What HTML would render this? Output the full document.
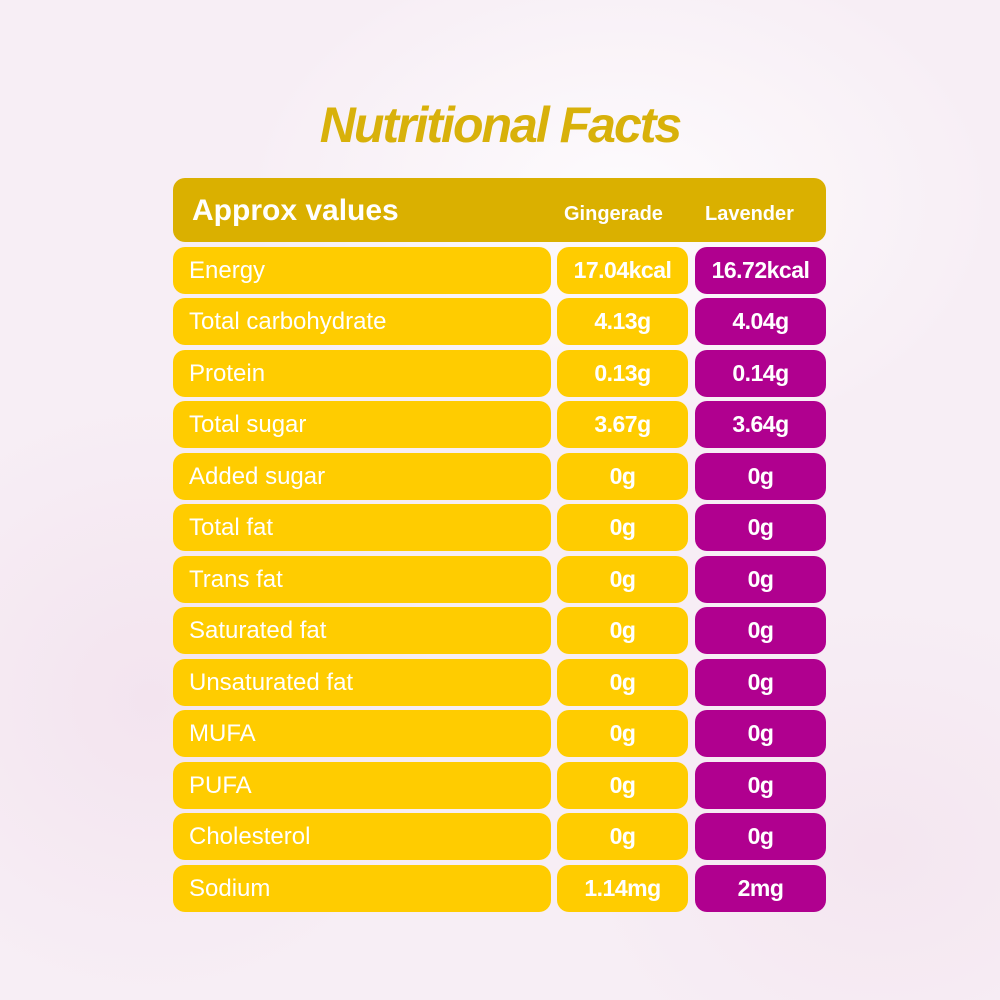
<!DOCTYPE html>
<html><head><meta charset="utf-8"><style>
body{margin:0;width:1000px;height:1000px;overflow:hidden;background:#f7eef5;font-family:"Liberation Sans",Arial,sans-serif;position:relative}
.bg{position:absolute;inset:0;background:radial-gradient(ellipse 380px 260px at 620px 200px,#fdfbfd 0%,rgba(253,251,253,0) 100%),radial-gradient(ellipse 300px 300px at 150px 700px,#f3e4ef 0%,rgba(243,228,239,0) 100%),radial-gradient(ellipse 300px 250px at 880px 850px,#f4e6f0 0%,rgba(244,230,240,0) 100%)}
.t{position:absolute;left:0;width:1000px;top:96px;text-align:center;font-size:50px;font-weight:bold;font-style:italic;color:#d8b10a;letter-spacing:-2px;font-family:"Liberation Sans",sans-serif}
.b{position:absolute;border-radius:12px;color:#fff;display:flex;align-items:center;font-size:24px}
.h{left:173px;top:178px;width:653px;height:64px;background:#dab000}
.l{left:173px;width:378px;height:47px;background:#ffcc00;padding-left:16px;box-sizing:border-box}
.g{left:557px;width:131px;height:47px;background:#ffcc00;justify-content:center;font-weight:bold;font-size:23px;letter-spacing:-0.5px}
.p{left:695px;width:131px;height:47px;background:#b0008f;justify-content:center;font-weight:bold;font-size:23px;letter-spacing:-0.5px}
</style></head><body><div class="bg"></div>
<div class="t">Nutritional Facts</div>
<div class="b h"><span style="position:absolute;left:19px;top:16px;font-size:30px;font-weight:bold">Approx values</span><span style="position:absolute;left:391px;top:25px;font-size:20px;font-weight:bold">Gingerade</span><span style="position:absolute;left:532px;top:25px;font-size:20px;font-weight:bold">Lavender</span></div>
<div class="b l" style="top:247px">Energy</div><div class="b g" style="top:247px">17.04kcal</div><div class="b p" style="top:247px">16.72kcal</div>
<div class="b l" style="top:298px">Total carbohydrate</div><div class="b g" style="top:298px">4.13g</div><div class="b p" style="top:298px">4.04g</div>
<div class="b l" style="top:350px">Protein</div><div class="b g" style="top:350px">0.13g</div><div class="b p" style="top:350px">0.14g</div>
<div class="b l" style="top:401px">Total sugar</div><div class="b g" style="top:401px">3.67g</div><div class="b p" style="top:401px">3.64g</div>
<div class="b l" style="top:453px">Added sugar</div><div class="b g" style="top:453px">0g</div><div class="b p" style="top:453px">0g</div>
<div class="b l" style="top:504px">Total fat</div><div class="b g" style="top:504px">0g</div><div class="b p" style="top:504px">0g</div>
<div class="b l" style="top:556px">Trans fat</div><div class="b g" style="top:556px">0g</div><div class="b p" style="top:556px">0g</div>
<div class="b l" style="top:607px">Saturated fat</div><div class="b g" style="top:607px">0g</div><div class="b p" style="top:607px">0g</div>
<div class="b l" style="top:659px">Unsaturated fat</div><div class="b g" style="top:659px">0g</div><div class="b p" style="top:659px">0g</div>
<div class="b l" style="top:710px">MUFA</div><div class="b g" style="top:710px">0g</div><div class="b p" style="top:710px">0g</div>
<div class="b l" style="top:762px">PUFA</div><div class="b g" style="top:762px">0g</div><div class="b p" style="top:762px">0g</div>
<div class="b l" style="top:813px">Cholesterol</div><div class="b g" style="top:813px">0g</div><div class="b p" style="top:813px">0g</div>
<div class="b l" style="top:865px">Sodium</div><div class="b g" style="top:865px">1.14mg</div><div class="b p" style="top:865px">2mg</div>
</body></html>
